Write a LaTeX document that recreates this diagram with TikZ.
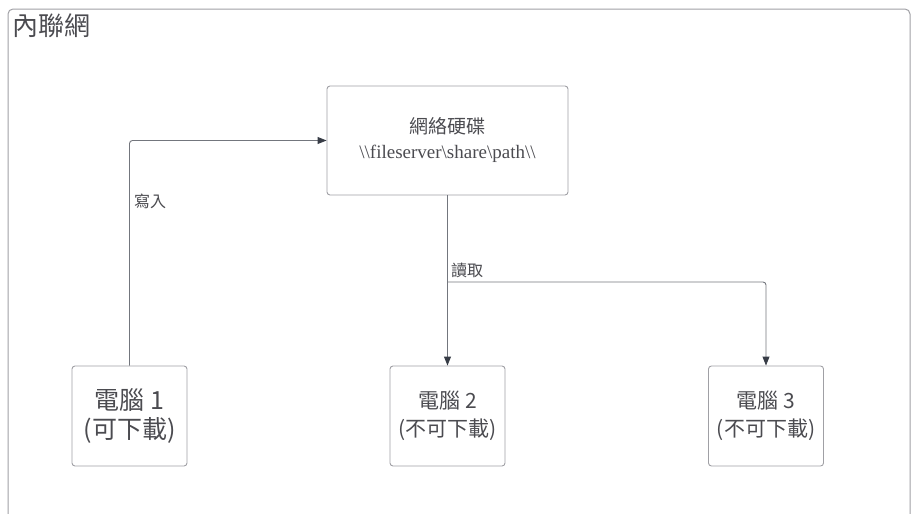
\documentclass[tikz,border=0pt]{standalone}
\usepackage{fontspec}
\setmainfont{Liberation Serif}
\newfontfamily\cjk{Noto Sans CJK TC}
\usepackage{xcolor}
\usepackage{tikz}
\usetikzlibrary{arrows.meta,calc}
\definecolor{frameink}{RGB}{160,160,165}
\definecolor{lineink}{RGB}{115,118,125}
\definecolor{textink}{RGB}{75,75,80}
\definecolor{tipink}{RGB}{55,60,70}

\tikzset{
    pcbox/.style={draw=frameink, rounded corners=3pt, line width=0.9pt,
        minimum width=115pt, minimum height=100pt, align=center, text=textink},
    link/.style={draw=lineink, line width=0.9pt, rounded corners=3pt},
    headed/.style={-{Triangle[length=9pt,width=7pt,fill=tipink,color=tipink]}}
}

\begin{document}
\begin{tikzpicture}[x=1pt,y=-1pt]
    \useasboundingbox (0,0) rectangle (911,514);
    \clip (0,0) rectangle (911,514);

    % Intranet frame
    \draw[frameink, line width=1pt, rounded corners=5pt]
        (8,530) -- (8,9) -- (910,9) -- (910,530);
    \node[anchor=north west, inner sep=0pt, text=textink,
          font=\cjk\fontsize{26}{30}\selectfont] (net) at (12,13) {內聯網};

    % Network drive
    \node[pcbox, minimum width=241pt, minimum height=109pt,
          font=\fontsize{19}{25}\selectfont] (disk) at (447.5,140.5)
        {{\cjk 網絡硬碟}\\
         \textbackslash\textbackslash fileserver\textbackslash share\textbackslash path\textbackslash\textbackslash};

    % Computers
    \node[pcbox, font=\cjk\fontsize{25}{29}\selectfont] (pc1) at (129.5,416)
        {電腦 1\\(可下載)};
    \node[pcbox, font=\cjk\fontsize{21}{28}\selectfont] (pc2) at (447.5,416)
        {電腦 2\\(不可下載)};
    \node[pcbox, font=\cjk\fontsize{21}{28}\selectfont] (pc3) at (766,416)
        {電腦 3\\(不可下載)};

    % Write
    \draw[link, headed] (pc1.north) |- (disk.west);
    \node[anchor=west, text=textink, inner sep=0pt,
          font=\cjk\fontsize{16}{18}\selectfont] (write) at (134,201) {寫入};

    % Read
    \coordinate (split) at (447.5,282);
    \draw[link, headed] (disk.south) -- (pc2.north);
    \draw[link, headed] (split) -| (pc3.north);
    \node[anchor=west, text=textink, inner sep=0pt,
          font=\cjk\fontsize{16}{18}\selectfont] (read) at (451,270) {讀取};
\end{tikzpicture}
\end{document}
